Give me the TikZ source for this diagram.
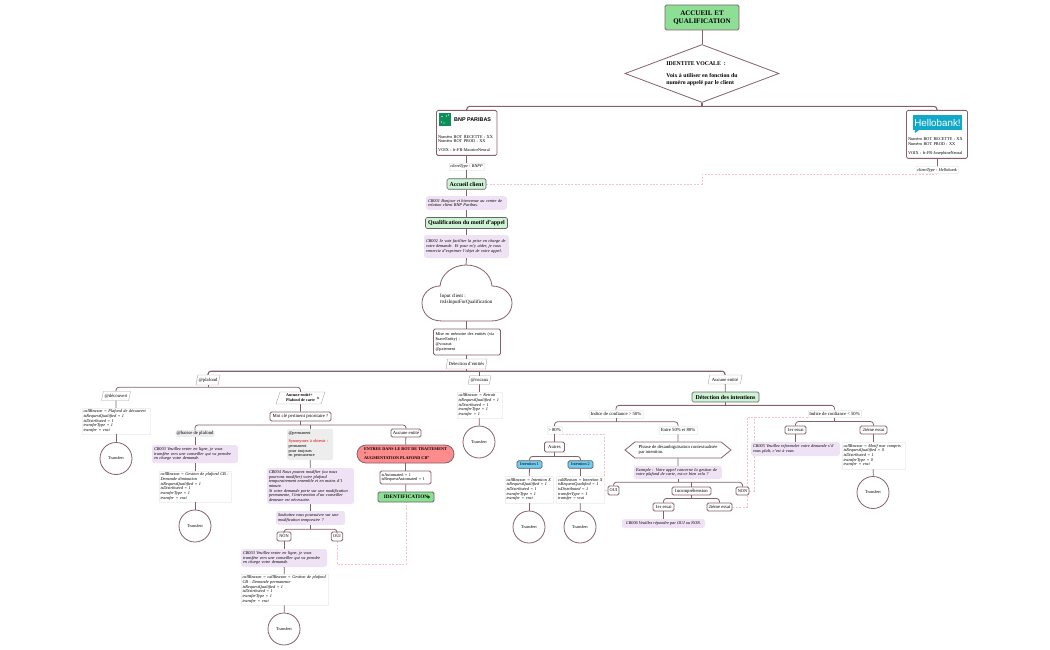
\documentclass[tikz,border=0pt]{standalone}
\usepackage{fontspec}
\usepackage{xcolor}
\usetikzlibrary{shapes.geometric,shapes.symbols,backgrounds}
\setmainfont{Liberation Serif}
\newfontfamily\logofont{Liberation Sans}
\definecolor{lnk}{HTML}{86606A}
\definecolor{dashc}{HTML}{F6BFD2}
\definecolor{purp}{HTML}{F0E2F5}
\definecolor{lgreen}{HTML}{CDF2D4}
\definecolor{mgreen}{HTML}{8EDF96}
\definecolor{salmon}{HTML}{FF8C8C}
\definecolor{skyb}{HTML}{74CCF0}
\definecolor{bnpg}{HTML}{0E8F5A}
\definecolor{hbank}{HTML}{12A9C9}
\begin{document}
\begin{tikzpicture}[x=1pt,y=-1pt]%
  \tikzstyle{smalln}=[font=\fontsize{4.3}{4.7}\selectfont]
  \tikzstyle{widen}=[font=\fontsize{4.7}{5}\selectfont]
  \tikzstyle{conn}=[draw=lnk,line width=0.8pt,rounded corners=3pt]
  \tikzstyle{bus}=[draw=lnk,line width=1.1pt,rounded corners=3pt]
  \tikzstyle{jump}=[draw=dashc,line width=0.6pt,dash pattern=on 2pt off 1.4pt]
  \tikzstyle{boxn}=[rectangle,rounded corners=1.5pt,draw=lnk,line width=0.8pt,fill=white,smalln,inner sep=1.5pt,align=left]
  \tikzstyle{lblp}=[rectangle,draw=black!6,line width=0.5pt,fill=white,smalln,inner sep=1.5pt,align=left]
  \tikzstyle{parl}=[trapezium,trapezium left angle=72,trapezium right angle=108,trapezium stretches=true,draw=black!35,line width=0.4pt,fill=white,widen,inner sep=0.5pt]
  \tikzstyle{purn}=[rectangle,rounded corners=2.5pt,fill=purp,font=\fontsize{4.3}{4.7}\selectfont\itshape,inner sep=2pt,align=left]
  \tikzstyle{grnn}=[rectangle,rounded corners=1.5pt,draw=black!60,line width=0.7pt,fill=lgreen,font=\fontsize{5.9}{6}\selectfont\bfseries,inner sep=0.5pt]
  \tikzstyle{blun}=[rectangle,rounded corners=1.5pt,draw=black!65,line width=0.7pt,fill=skyb,smalln,inner sep=1pt]
  \tikzstyle{trn}=[circle,draw=lnk,line width=0.8pt,fill=white,smalln,minimum size=32pt,inner sep=0]
  \tikzstyle{gryn}=[rectangle,rounded corners=1.5pt,fill=black!7,smalln,inner sep=1.5pt,align=left]
  \useasboundingbox (0,0) rectangle (1050,650);
  % top
  \node(acc)[rectangle,rounded corners=1.5pt,draw=lnk,line width=0.9pt,fill=mgreen,minimum width=74pt,minimum height=25pt,inner sep=0,align=center,font=\fontsize{7}{7.8}\selectfont\bfseries] at (702,17.5){ACCUEIL ET\\QUALIFICATION};
  \node(idv)[diamond,aspect=2.65,draw=lnk,line width=0.8pt,fill=white,minimum width=154pt,minimum height=58pt,inner sep=0,align=left,font=\fontsize{5.8}{6.5}\selectfont\bfseries] at (702,73.5){IDENTITE VOCALE\ \ :\\[6pt]Voix à utiliser en fonction du\\numéro appelé par le client};
  % brands
  \node(bnp)[boxn,minimum width=60.5pt,minimum height=45pt,text width=57pt,anchor=north] at (466.7,110){\vspace{19.5pt}\\Numéro BOT RECETTE : XX\\Numéro BOT PROD : XX\\[4pt]VOIX : fr-FR-MauriceNeural};
  \node(bnpl)[rectangle,fill=bnpg,minimum size=12.5pt,inner sep=0] at (445,119.5){};
  \foreach \dx/\dy in {1.5/-3.5,3.5/-4.5,-3.5/2.5,-1/3.5,-3/-3} \fill[white] (bnpl.center)++(\dx,\dy) circle (0.55);
  \node(bnpt)[font=\fontsize{5.4}{6}\logofont\bfseries,inner sep=0,anchor=west] at (454,119.5){BNP PARIBAS};
  \node(hel)[boxn,minimum width=61pt,minimum height=48pt,text width=58pt,anchor=north] at (937,110){\vspace{22.5pt}\\Numéro BOT RECETTE : XX\\Numéro BOT PROD : XX\\[4pt]VOIX : fr-FR-JosephineNeural};
  \node(hell)[rectangle,fill=hbank,text=white,minimum width=49pt,minimum height=15pt,inner sep=0,font=\fontsize{9.8}{10}\logofont] at (937.5,122.5){Hellobank!};
  \fill[hbank] (hell.south west)++(2,0) -- ++(4,0) -- ++(-4,3) -- cycle;
  \node(bty)[lblp,font=\fontsize{4.3}{4.7}\selectfont\itshape] at (466.5,166.5){clientType : BNPP};
  \node(hty)[lblp,font=\fontsize{4.3}{4.7}\selectfont\itshape] at (937,170){clientType : Hellobank};
  \node(accl)[grnn,minimum width=39pt,minimum height=10.5pt] at (466.5,184){Accueil client};
  \node(cb1)[purn,minimum width=81pt,minimum height=13.5pt,text width=77pt] at (466.5,203){CB001 Bonjour et bienvenue au centre de\\relation client BNP Paribas.};
  \node(qua)[grnn,minimum width=82pt,minimum height=11pt] at (466.5,223){Qualification du motif d'appel};
  \node(cb2)[purn,minimum width=85pt,minimum height=23pt,text width=81pt] at (466.5,246.5){CB002 Je vais faciliter la prise en charge de\\votre demande. Et pour m'y aider, je vous\\remercie d'exprimer l'objet de votre appel.};
  % cloud
  \draw[draw=lnk,line width=0.8pt,fill=white] (442,321) .. controls (428,321) and (422,312) .. (422,303) .. controls (422,293) and (431,286) .. (440,286) .. controls (441,274) and (453,265) .. (466,265) .. controls (480,265) and (491,274) .. (492,286) .. controls (502,286) and (512,293) .. (512,303) .. controls (512,312) and (505,321) .. (491,321) -- cycle;
  \coordinate(cldt) at (466,265);
  \coordinate(cldb) at (466,321);
  \node(cld)[font=\fontsize{5}{5.5}\selectfont,align=left,inner sep=0,anchor=west] at (440,299.5){Input client :\\ttsIsInputForQualification};
  \node(mem)[boxn,minimum width=67pt,minimum height=26pt,text width=63pt] at (467,342){Mise en mémoire des entités (via\\\$saveEntity) :\\@vocaux\\@paiement};
  \node(det)[parl,minimum width=41pt,minimum height=10pt] at (466.5,364){Détection d'entités};
  % entities
  \node(pla)[parl,minimum width=24pt,minimum height=10pt] at (208,380){@plafond};
  \node(dec)[parl,minimum width=29pt,minimum height=9pt] at (116,396){@découvert};
  \node(cr1)[lblp,minimum width=68pt,minimum height=26pt,text width=65pt] at (116,421){\textit{callReason = Plafond de découvert}\\\textit{isRequestQualified = 1}\\\textit{isDistributed = 1}\\\textit{transferType = 1}\\\textit{transfer = vrai}};
  \node(t1)[trn] at (116,458.5){Transfert};
  \node(aup)[parl,minimum width=49pt,minimum height=12pt,align=left,font=\fontsize{4.1}{4.9}\selectfont\bfseries] at (300.5,398){Aucune entité+\hspace{11pt}\\Plafond de carte\hspace{11pt}};
  \node(icoa)[circle,fill=black!45,minimum size=2.6pt,inner sep=0] at (318,398){};
  \node(mot)[boxn,widen,minimum width=61pt,minimum height=9pt,inner sep=0] at (300.5,416.5){Mot clé pertinent prioritaire ?};
  \node(bai)[gryn,widen,minimum width=39pt,minimum height=7pt,inner sep=0] at (195,433.5){@baisse de plafond};
  \node(cb3)[purn,minimum width=86pt,minimum height=18pt,text width=82pt] at (195,454){CB003 Veuillez rester en ligne, je vous\\transfère vers une conseiller qui va prendre\\en charge votre demande.};
  \node(cr2)[lblp,minimum width=72pt,minimum height=31pt,text width=69pt] at (195,486.5){\textit{callReason = Gestion de plafond CB -}\\\textit{Demande diminution}\\\textit{isRequestQualified = 1}\\\textit{isDistributed = 1}\\\textit{transferType = 1}\\\textit{transfer = vrai}};
  \node(t2)[trn] at (195,526){Transfert};
  \node(per)[gryn,minimum width=46pt,minimum height=31pt,text width=43pt] at (310,444.5){@permanent\\[4pt]\textcolor{red!85!black}{Synonymes à obtenir :}\\permanent\\pour toujours\\en permanence};
  \node(cb4)[purn,minimum width=87pt,minimum height=36pt,text width=83pt,font=\fontsize{4.3}{4.6}\selectfont\itshape] at (310.5,486){CB004 Nous pouvez modifier (ou nous\\pourrons modifier) votre plafond\\temporairement ensemble et en moins d'1\\minute.\\Si votre demande porte sur une modification\\permanente, l'intervention d'un conseiller\\demeure est nécessaire.};
  \node(sou)[purn,minimum width=69pt,minimum height=14pt,text width=65pt] at (310.5,518){Souhaitez vous poursuivre sur une\\modification temporaire ?};
  \node(non)[boxn,minimum width=14pt,minimum height=9pt,inner sep=0] at (284,536.5){NON};
  \node(oui)[boxn,minimum width=11.5pt,minimum height=9pt,inner sep=0] at (337,536.5){OUI};
  \node(cb3b)[purn,minimum width=86pt,minimum height=18pt,text width=82pt] at (284,558){CB003 Veuillez rester en ligne, je vous\\transfère vers une conseiller qui va prendre\\en charge votre demande.};
  \node(cr3)[lblp,minimum width=87pt,minimum height=31pt,text width=84pt] at (284.5,589.5){\textit{callReason = callReason = Gestion de plafond}\\\textit{CB - Demande permanente}\\\textit{isRequestQualified = 1}\\\textit{isDistributed = 1}\\\textit{transferType = 1}\\\textit{transfer = vrai}};
  \node(t3)[trn] at (284,629){Transfert};
  \node(aub)[boxn,widen,minimum width=30pt,minimum height=8pt,inner sep=0] at (406,433){Aucune entité};
  \node(ent)[rectangle,rounded corners=9pt,draw=lnk,line width=0.8pt,fill=salmon,minimum width=97pt,minimum height=18pt,inner sep=0,align=left,font=\fontsize{4.2}{4.6}\selectfont\bfseries] at (405.5,454){ENTREE DANS LE BOT DE TRAITEMENT\\"\\AUGMENTATION PLAFOND CB"\hspace{12pt}};
  \node(aut)[boxn,minimum width=51pt,minimum height=13pt,text width=48pt] at (405.5,477.5){isAutomated = 1\\isRequestAutomated = 1};
  \node(ide)[rectangle,rounded corners=1.5pt,draw=black!60,line width=0.8pt,fill=mgreen,minimum width=56pt,minimum height=10pt,inner sep=0,font=\fontsize{5.2}{6}\selectfont\bfseries] at (406,497){IDENTIFICATION\hspace{11pt}};
  \node(icob)[circle,fill=black!65!green,minimum size=3.4pt,inner sep=0] at (428.5,497){};
  \node(voc)[parl,minimum width=23pt,minimum height=8.5pt] at (479.5,380){@vocaux};
  \node(cr4)[lblp,minimum width=45pt,minimum height=26pt,text width=42pt] at (479.5,405){\textit{callReason = Retrait}\\\textit{isRequestQualified = 1}\\\textit{isDistributed = 1}\\\textit{transferType = 1}\\\textit{transfer = 1}};
  \node(t4)[trn] at (479,442){Transfert};
  % intentions
  \node(aur)[parl,minimum width=34pt,minimum height=9pt] at (725,379.5){Aucune entité};
  \node(din)[grnn,minimum width=67pt,minimum height=10pt] at (725.5,397){Détection des intentions};
  \node(cfa)[lblp,widen,minimum width=54pt,minimum height=8pt,inner sep=0] at (616,414){Indice de confiance > 50\%};
  \node(cfb)[lblp,widen,minimum width=53pt,minimum height=7.5pt,inner sep=0] at (834.5,413.5){Indice de confiance < 50\%};
  \node(ovr)[lblp,widen,minimum width=15pt,minimum height=8pt,inner sep=0] at (554.5,430){> 80\%};
  \node(btw)[lblp,widen,minimum width=38pt,minimum height=8pt,inner sep=0] at (678,430){Entre 50\% et 80\%};
  \node(atr)[boxn,widen,minimum width=20pt,minimum height=10pt,inner sep=0] at (554.5,447){Autres};
  \node(in1)[blun,minimum width=25pt,minimum height=7.5pt] at (529.5,464.5){Intention 1};
  \node(in2)[blun,minimum width=25pt,minimum height=7.5pt] at (580.5,464.5){Intention 2};
  \node(cr5)[lblp,minimum width=48pt,minimum height=27pt,text width=45pt] at (529,489.5){\textit{callReason = Intention X}\\\textit{isRequestQualified = 1}\\\textit{isDistributed = 1}\\\textit{transferType = 1}\\\textit{transfer = vrai}};
  \node(cr6)[lblp,minimum width=48pt,minimum height=27pt,text width=45pt] at (580.5,489.5){\textit{callReason = Intention X}\\\textit{isRequestQualified = 1}\\\textit{isDistributed = 1}\\\textit{transferType = 1}\\\textit{transfer = vrai}};
  \node(t5)[trn] at (529,527){Transfert};
  \node(t6)[trn] at (580,527){Transfert};
  \node(phr)[signal,signal to=west and east,signal pointer angle=78,draw=lnk,line width=0.8pt,fill=white,minimum width=106pt,minimum height=16pt,inner sep=0,font=\fontsize{4.6}{4.9}\selectfont,align=left] at (678,450){Phrase de désambiguïsation contextualisée\\par intention.};
  \node(exa)[purn,minimum width=88pt,minimum height=13pt,text width=84pt] at (678,472.5){Exemple : Votre appel concerne la gestion de\\votre plafond de carte, est-ce bien cela ?};
  \node(oub)[boxn,minimum width=11pt,minimum height=9pt,inner sep=0] at (613.5,490.5){OUI};
  \node(inc)[boxn,widen,minimum width=39pt,minimum height=8pt,inner sep=0] at (691.5,491){Incompréhension};
  \node(nob)[boxn,minimum width=13pt,minimum height=8pt,inner sep=0] at (742.5,491){NON};
  \node(ea1)[boxn,widen,minimum width=21pt,minimum height=8pt,inner sep=0] at (663.5,507){1er essai};
  \node(ea2)[boxn,widen,minimum width=25pt,minimum height=8pt,inner sep=0] at (719.5,507){2ième essai};
  \node(cb6)[purn,minimum width=83pt,minimum height=9pt,inner sep=0.5pt,align=center] at (663.5,523.5){CB006 Veuillez répondre par OUI ou NON.};
  \node(eb1)[boxn,widen,minimum width=21pt,minimum height=8pt,inner sep=0] at (795.5,430){1er essai};
  \node(eb2)[boxn,widen,minimum width=27pt,minimum height=8pt,inner sep=0] at (873.5,430){2ième essai};
  \node(cb5)[purn,minimum width=89pt,minimum height=14pt,text width=85pt] at (795.5,449){CB005 Veuillez reformuler votre demande s'il\\vous plaît, c'est à vous};
  \node(cr7)[lblp,minimum width=63pt,minimum height=27pt,text width=60pt] at (873.5,455.5){\textit{callReason = Motif non compris}\\\textit{isRequestQualified = 0}\\\textit{isDistributed = 1}\\\textit{transferType = 0}\\\textit{transfer = vrai}};
  \node(t7)[trn] at (873,492.5){Transfert};
  \coordinate(dj) at (702,174.5);
  \coordinate(dk) at (604,490.5);
  \coordinate(dl) at (747,417);
  \coordinate(dm) at (754,417);
  \begin{pgfonlayer}{background}
    \draw[jump] (accl.east) -| (dj) -- (dj -| hty.south);
    \draw[jump] (oui.south) -- ++(0,23) -| (ide.south);
    \draw[jump] (ovr.south east) -| (dk) -- (oub.west);
    \draw[jump] (ea2.east) -| (dl) -- (dl -| cfb.south west);
    \draw[jump] (nob.east) -| (dm);
  \end{pgfonlayer}
  % links
  \draw[conn] (acc) -- (idv);
  \draw[bus] (idv.south) -- ++(0,3.5) coordinate(ja);
  \draw[bus] (bnp.north) |- (ja) -| (hel.north);
  \draw[conn] (hel) -- (hty);
  \draw[conn] (bnp) -- (bty);
  \draw[conn] (bty) -- (accl);
  \draw[conn] (accl) -- (cb1);
  \draw[conn] (cb1) -- (qua);
  \draw[conn] (qua) -- (cb2);
  \draw[conn] (cb2.south) -- (cldt);
  \draw[conn] (cldb) -- (mem.north -| cldb);
  \draw[conn] (mem.south -| det.north) -- (det.north);
  \draw[bus] (det.south) -- ++(0,2) coordinate(jb);
  \draw[bus] (pla.north) |- (jb) -| (aur.north);
  \draw[conn] (jb -| voc.north) -- (voc.north);
  \draw[conn] (pla.south) -- ++(0,2) coordinate(jc);
  \draw[conn] (dec.north) |- (jc) -| (aup.north);
  \draw[conn] (dec) -- (cr1);
  \draw[conn] (cr1) -- (t1);
  \draw[conn] (aup) -- (mot);
  \draw[conn] (mot.south) -- ++(0,3.5) coordinate(jd);
  \draw[conn] (bai.north) |- (jd) -| (aub.north);
  \draw[conn] (jd -| per.north) -- (per.north);
  \draw[conn] (bai) -- (cb3);
  \draw[conn] (cb3) -- (cr2);
  \draw[conn] (cr2) -- (t2);
  \draw[conn] (per) -- (cb4);
  \draw[conn] (cb4) -- (sou);
  \draw[conn] (sou.south) -- ++(0,4) coordinate(je);
  \draw[conn] (non.north) |- (je) -| (oui.north);
  \draw[conn] (non) -- (cb3b);
  \draw[conn] (cb3b) -- (cr3);
  \draw[conn] (cr3) -- (t3);
  \draw[conn] (aub) -- (ent);
  \draw[conn] (ent) -- (aut);
  \draw[conn] (aut) -- (ide);
  \draw[conn] (voc) -- (cr4);
  \draw[conn] (cr4) -- (t4);
  \draw[conn] (aur) -- (din);
  \draw[conn] (din.south) -- ++(0,3) coordinate(jf);
  \draw[conn] (cfa.north) |- (jf) -| (cfb.north);
  \draw[conn] (cfa.south) -- ++(0,3.5) coordinate(jg);
  \draw[conn] (ovr.north) |- (jg) -| (btw.north);
  \draw[conn] (ovr) -- (atr);
  \draw[conn] (atr.south) -- ++(0,4) coordinate(jh);
  \draw[conn] (in1.north) |- (jh) -| (in2.north);
  \draw[conn] (in1) -- (cr5);
  \draw[conn] (in2) -- (cr6);
  \draw[conn] (cr5) -- (t5);
  \draw[conn] (cr6) -- (t6);
  \draw[conn] (btw) -- (phr);
  \draw[conn] (phr) -- (exa);
  \draw[conn] (exa.south) -- ++(0,3) coordinate(ji);
  \draw[conn] (oub.north) |- (ji) -| (nob.north);
  \draw[conn] (ji -| inc.north) -- (inc.north);
  \draw[conn] (inc.south) -- ++(0,3) coordinate(jk);
  \draw[conn] (ea1.north) |- (jk) -| (ea2.north);
  \draw[conn] (ea1) -- (cb6);
  \draw[conn] (cfb.south) -- ++(0,4) coordinate(jl);
  \draw[conn] (eb1.north) |- (jl) -| (eb2.north);
  \draw[conn] (eb1) -- (cb5);
  \draw[conn] (eb2) -- (cr7);
  \draw[conn] (cr7) -- (t7);
\end{tikzpicture}
\end{document}
